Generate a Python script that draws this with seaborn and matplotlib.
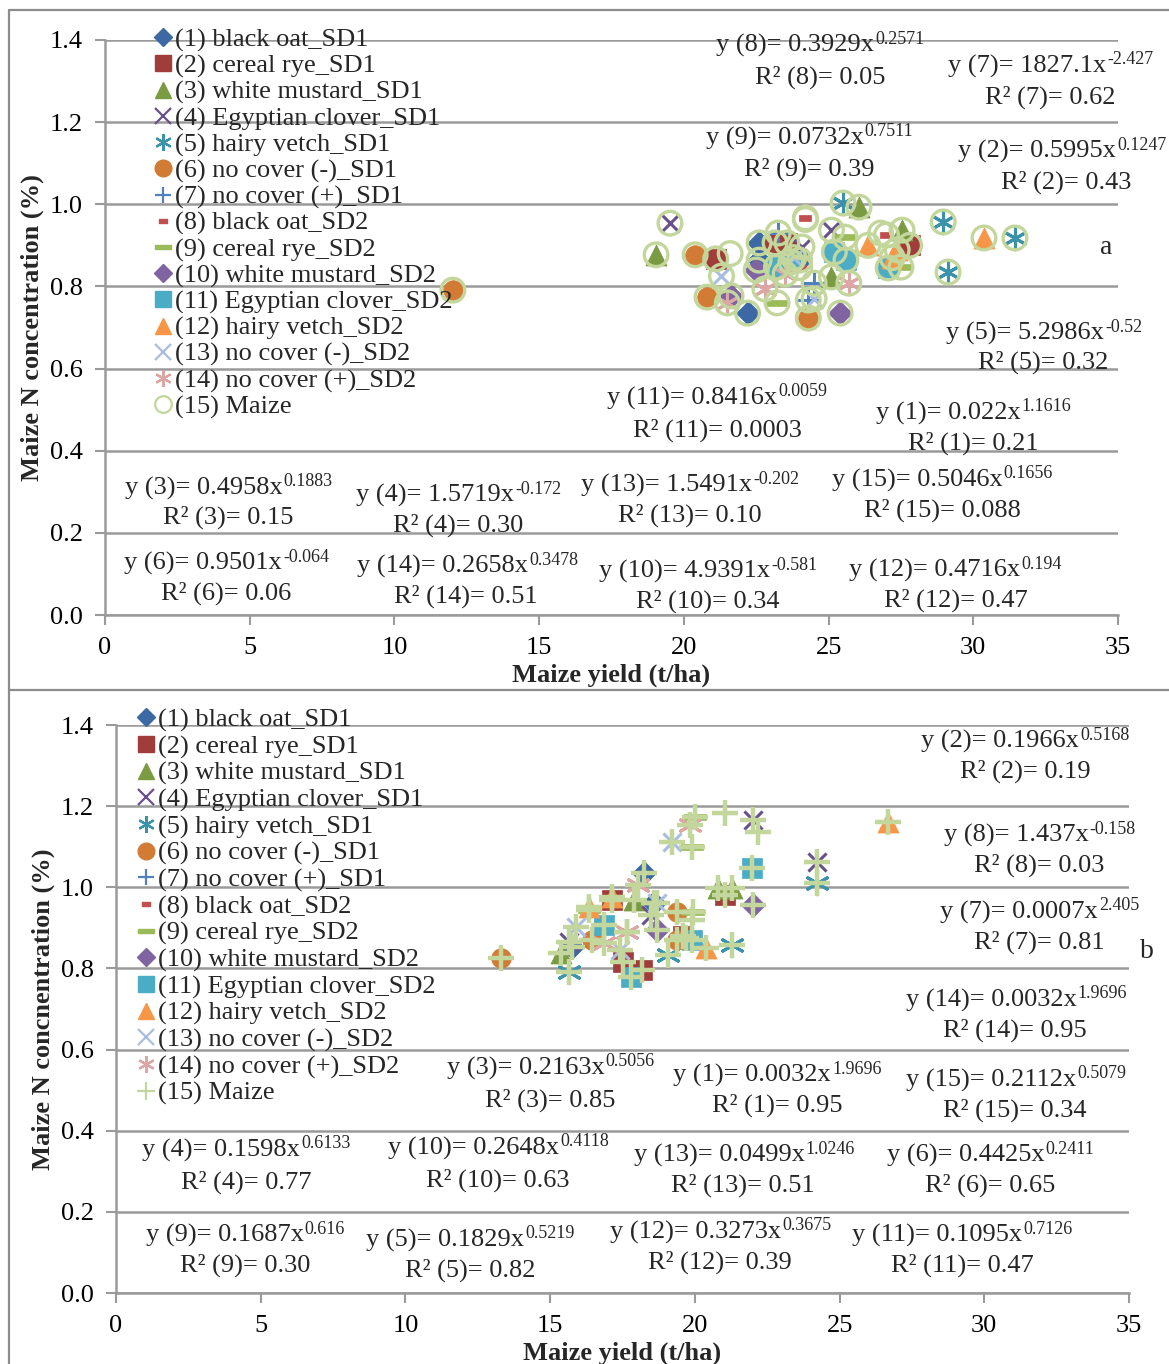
import matplotlib
matplotlib.use("Agg")
import matplotlib.pyplot as plt
import seaborn as sns
import numpy as np
import pandas as pd
from matplotlib.lines import Line2D
from matplotlib.markers import MarkerStyle
from matplotlib.path import Path

sns.set_theme(style="white")
plt.rcParams["font.family"] = ["Liberation Serif", "DejaVu Serif"]

# ---------------- data ----------------
series_labels = ["(1) black oat_SD1", "(2) cereal rye_SD1", "(3) white mustard_SD1",
                 "(4) Egyptian clover_SD1", "(5) hairy vetch_SD1", "(6) no cover (-)_SD1",
                 "(7) no cover (+)_SD1", "(8) black oat_SD2", "(9) cereal rye_SD2",
                 "(10) white mustard_SD2", "(11) Egyptian clover_SD2", "(12) hairy vetch_SD2",
                 "(13) no cover (-)_SD2", "(14) no cover (+)_SD2", "(15) Maize"]

# panel a: maize yield (t/ha) and N concentration (%) per series (1)-(14)
a_yield = [
    [22.2, 22.6, 22.6, 24.0],
    [21.1, 23.15, 23.56, 27.8],
    [19.04, 26.05, 25.1, 27.54],
    [19.52, 24.08, 25.1],
    [25.5, 28.96, 29.13, 31.44],
    [12.02, 20.39, 20.8, 24.3],
    [23.26, 24.5, 24.3],
    [24.2, 27.0, 24.0],
    [23.22, 25.57, 27.5],
    [21.63, 22.5, 25.4],
    [23.2, 25.2, 25.6, 27.06, 23.7],
    [26.36, 27.37, 30.37, 27.2],
    [21.3, 24.5, 23.8],
    [21.5, 22.8, 25.7, 23.5],
]
a_nconc = [
    [0.735, 0.906, 0.864, 0.864],
    [0.867, 0.906, 0.906, 0.900],
    [0.877, 0.993, 0.823, 0.937],
    [0.954, 0.896, 0.937],
    [1.003, 0.957, 0.835, 0.918],
    [0.791, 0.877, 0.774, 0.723],
    [0.930, 0.808, 0.767],
    [0.967, 0.925, 0.846],
    [0.760, 0.920, 0.847],
    [0.777, 0.840, 0.735],
    [0.847, 0.884, 0.864, 0.845, 0.860],
    [0.900, 0.889, 0.918, 0.870],
    [0.825, 0.770, 0.870],
    [0.760, 0.794, 0.808, 0.830],
]
a_maize_extra_yield = [24.2, 26.8, 21.6]
a_maize_extra_nconc = [0.963, 0.930, 0.880]

# panel b
b_yield = [
    [18.26, 18.6, 15.77],
    [21.03, 17.12, 17.5, 18.16, 19.6],
    [20.79, 21.3, 17.9, 15.38],
    [22.0, 24.22, 18.5, 15.66],
    [24.22, 21.27, 19.06, 15.66],
    [13.3, 19.37, 19.37, 16.46],
    [21.03, 19.9],
    [17.64, 19.7],
    [19.99, 19.9, 16.35, 19.92],
    [22.0, 18.7],
    [21.97, 19.9, 16.87, 17.8],
    [26.68, 17.15, 16.35, 20.37],
    [19.2, 18.7, 15.9, 17.4],
    [19.82, 18.02, 16.87, 17.64],
]
b_nconc = [
    [1.035, 0.961, 0.853],
    [0.981, 0.969, 0.816, 0.796, 0.880],
    [0.998, 0.998, 0.969, 0.838],
    [1.166, 1.062, 0.932, 0.865],
    [1.010, 0.857, 0.833, 0.791],
    [0.826, 0.939, 0.870, 0.870],
    [1.183, 0.920],
    [0.890, 0.875],
    [1.173, 1.100, 0.944, 0.939],
    [0.956, 0.895],
    [1.048, 0.870, 0.907, 0.779],
    [1.161, 0.976, 0.951, 0.850],
    [1.112, 0.961, 0.902, 0.845],
    [1.154, 1.006, 0.863, 0.890],
]
b_maize_extra_yield = [22.18]
b_maize_extra_nconc = [1.136]

a_equations = [
    ("y (8)= 0.3929x", "0.2571", 820, 45), ("R² (8)= 0.05", None, 820, 77),
    ("y (7)= 1827.1x", "-2.427", 1050, 66), ("R² (7)= 0.62", None, 1050, 97),
    ("y (9)= 0.0732x", "0.7511", 809, 138), ("R² (9)= 0.39", None, 809, 169),
    ("y (2)= 0.5995x", "0.1247", 1062, 151), ("R² (2)= 0.43", None, 1066, 182),
    ("y (5)= 5.2986x", "-0.52", 1044, 333), ("R² (5)= 0.32", None, 1043, 362),
    ("y (11)= 0.8416x", "0.0059", 717, 398), ("R² (11)= 0.0003", None, 717, 430),
    ("y (1)= 0.022x", "1.1616", 973, 413), ("R² (1)= 0.21", None, 973, 443),
    ("y (3)= 0.4958x", "0.1883", 228, 488), ("R² (3)= 0.15", None, 228, 517),
    ("y (4)= 1.5719x", "-0.172", 458, 495), ("R² (4)= 0.30", None, 458, 525),
    ("y (13)= 1.5491x", "-0.202", 690, 485), ("R² (13)= 0.10", None, 690, 515),
    ("y (15)= 0.5046x", "0.1656", 942, 480), ("R² (15)= 0.088", None, 942, 510),
    ("y (6)= 0.9501x", "-0.064", 226, 563), ("R² (6)= 0.06", None, 226, 593),
    ("y (14)= 0.2658x", "0.3478", 467, 566), ("R² (14)= 0.51", None, 466, 596),
    ("y (10)= 4.9391x", "-0.581", 708, 571), ("R² (10)= 0.34", None, 708, 601),
    ("y (12)= 0.4716x", "0.194", 955, 570), ("R² (12)= 0.47", None, 956, 600),
]
b_equations = [
    ("y (2)= 0.1966x", "0.5168", 1025, 741), ("R² (2)= 0.19", None, 1025, 771),
    ("y (8)= 1.437x", "-0.158", 1039, 835), ("R² (8)= 0.03", None, 1039, 865),
    ("y (7)= 0.0007x", "2.405", 1039, 912), ("R² (7)= 0.81", None, 1039, 942),
    ("y (14)= 0.0032x", "1.9696", 1016, 1000), ("R² (14)= 0.95", None, 1015, 1030),
    ("y (3)= 0.2163x", "0.5056", 550, 1068), ("R² (3)= 0.85", None, 550, 1100),
    ("y (1)= 0.0032x", "1.9696", 777, 1075), ("R² (1)= 0.95", None, 777, 1105),
    ("y (15)= 0.2112x", "0.5079", 1016, 1080), ("R² (15)= 0.34", None, 1015, 1110),
    ("y (4)= 0.1598x", "0.6133", 246, 1150), ("R² (4)= 0.77", None, 246, 1182),
    ("y (10)= 0.2648x", "0.4118", 498, 1148), ("R² (10)= 0.63", None, 498, 1180),
    ("y (13)= 0.0499x", "1.0246", 744, 1155), ("R² (13)= 0.51", None, 743, 1185),
    ("y (6)= 0.4425x", "0.2411", 990, 1155), ("R² (6)= 0.65", None, 990, 1185),
    ("y (9)= 0.1687x", "0.616", 245, 1235), ("R² (9)= 0.30", None, 245, 1265),
    ("y (5)= 0.1829x", "0.5219", 470, 1240), ("R² (5)= 0.82", None, 470, 1270),
    ("y (12)= 0.3273x", "0.3675", 720, 1232), ("R² (12)= 0.39", None, 720, 1262),
    ("y (11)= 0.1095x", "0.7126", 962, 1235), ("R² (11)= 0.47", None, 962, 1265),
]

# ---------------- styles ----------------
W, H = 1169, 1364
def fx(px): return px / W
def fy(py): return 1 - py / H

dash_short = MarkerStyle(Path([(-1, -0.5), (1, -0.5), (1, 0.5), (-1, 0.5), (-1, -0.5)]))
dash_long = MarkerStyle(Path([(-1, -0.28), (1, -0.28), (1, 0.28), (-1, 0.28), (-1, -0.28)]))

colors = ["#3C69A3", "#A03D3A", "#7B9B43", "#67508C", "#3A93AA", "#D27B34",
          "#4F81BD", "#C0504D", "#9BBB59", "#8064A2", "#4BACC6", "#F79646",
          "#A9BDE0", "#DCA6A5", "#C3D69B"]
markers = ["D", "s", "^", "x", (6, 2, 0), "o", "+", dash_short, dash_long,
           "D", "s", "^", "x", (6, 2, 0)]
filled = [True, True, True, False, False, True, False, True, True,
          True, True, True, False, False]
sizes = [150, 190, 230, 170, 260, 200, 260, 70, 260, 150, 190, 230, 170, 260]
leg_sizes = [9, 11, 12, 11, 12, 12, 12, 6, 11, 9, 11, 12, 11, 12]

GRID = "#9A9A9A"
FS = 19
FS_SUP = 13

fig = plt.figure(figsize=(W / 100, H / 100), dpi=100)
ax_a = fig.add_axes([fx(105), fy(615), (1118 - 105) / W, (615 - 40) / H])
ax_b = fig.add_axes([fx(116), fy(1293), (1129 - 116) / W, (1293 - 725) / H])


def style_axes(ax, ylabel, ylabelpad):
    ax.set_xlim(0, 35)
    ax.set_ylim(0, 1.4)
    ax.set_xticks(np.arange(0, 36, 5))
    ax.set_yticks(np.round(np.arange(0, 1.41, 0.2), 1))
    ax.set_yticklabels([f"{v:.1f}" for v in np.arange(0, 1.41, 0.2)])
    ax.grid(axis="y", color=GRID, lw=1.8, zorder=0)
    ax.grid(axis="x", visible=False)
    ax.set_axisbelow(True)
    for s in ["top", "right"]:
        ax.spines[s].set_visible(False)
    for s in ["left", "bottom"]:
        ax.spines[s].set_color(GRID)
        ax.spines[s].set_linewidth(1.8)
    ax.tick_params(axis="both", direction="out", length=7, width=1.5, color=GRID,
                   labelsize=FS, labelcolor="black", left=True, bottom=True)
    ax.tick_params(axis="y", pad=9)
    ax.tick_params(axis="x", pad=9)
    ax.set_xlabel("Maize yield (t/ha)", fontsize=FS, fontweight="bold", labelpad=3)
    ax.set_ylabel(ylabel, fontsize=FS, fontweight="bold", labelpad=ylabelpad)


def draw_panel(ax, xs, ys, mx, my, maize_marker):
    for i in range(14):
        c = colors[i]
        kw = dict(x=xs[i], y=ys[i], ax=ax, marker=markers[i], s=sizes[i],
                  legend=False, zorder=3 + i * 0.01)
        if filled[i]:
            kw.update(color=c, edgecolor=c, linewidth=0.5)
        else:
            kw.update(color=c, edgecolor=c, linewidth=2.2)
        sns.scatterplot(**kw)
    all_x = [v for s in xs for v in s] + list(mx)
    all_y = [v for s in ys for v in s] + list(my)
    maize = pd.DataFrame({"yield": all_x, "nconc": all_y})
    if maize_marker == "o":
        sns.scatterplot(data=maize, x="yield", y="nconc", ax=ax, marker="o", s=290,
                        facecolor="none", edgecolor=colors[14], linewidth=2.4,
                        legend=False, zorder=5)
    else:
        sns.scatterplot(data=maize, x="yield", y="nconc", ax=ax, marker="+", s=330,
                        color=colors[14], edgecolor=colors[14], linewidth=3.2,
                        legend=False, zorder=5)


def make_legend(ax, maize_marker, left_px, top_px, spacing):
    handles = []
    for i in range(14):
        c = colors[i]
        if filled[i]:
            h = Line2D([], [], ls="none", marker=markers[i], color=c, markerfacecolor=c,
                       markeredgecolor=c, markersize=leg_sizes[i])
        else:
            h = Line2D([], [], ls="none", marker=markers[i], color=c,
                       markeredgewidth=1.6, markersize=leg_sizes[i])
        handles.append(h)
    if maize_marker == "o":
        handles.append(Line2D([], [], ls="none", marker="o", markerfacecolor="none",
                              markeredgecolor=colors[14], markeredgewidth=1.6, markersize=12))
    else:
        handles.append(Line2D([], [], ls="none", marker="+", color=colors[14],
                              markeredgewidth=1.6, markersize=13))
    leg = ax.legend(handles, series_labels, loc="upper left",
                    bbox_to_anchor=(fx(left_px), fy(top_px)), bbox_transform=fig.transFigure,
                    frameon=False, fontsize=FS, handlelength=0.6, handletextpad=0.15,
                    labelspacing=spacing, borderpad=0, borderaxespad=0)
    leg.set_zorder(10)


style_axes(ax_a, "Maize N concentration (%)", 4)
style_axes(ax_b, "Maize N concnentration (%)", 4)
draw_panel(ax_a, a_yield, a_nconc, a_maize_extra_yield, a_maize_extra_nconc, "o")
draw_panel(ax_b, b_yield, b_nconc, b_maize_extra_yield, b_maize_extra_nconc, "+")
make_legend(ax_a, "o", 155, 28, 0.088)
make_legend(ax_b, "+", 138, 708, 0.105)

# equation labels: base text plus a smaller raised exponent, centred as a whole
renderer = fig.canvas.get_renderer()
for base, sup, px, py in a_equations + b_equations:
    if sup is None:
        fig.text(fx(px), fy(py), base, ha="center", va="center", fontsize=FS)
        continue
    t1 = fig.text(0, 0, base, fontsize=FS, ha="left", va="center")
    t2 = fig.text(0, 0, sup, fontsize=FS_SUP, ha="left", va="center")
    w1 = t1.get_window_extent(renderer).width
    w2 = t2.get_window_extent(renderer).width
    left = px - (w1 + w2) / 2
    t1.set_position((fx(left), fy(py)))
    t2.set_position((fx(left + w1 + 1), fy(py - 6)))
fig.text(fx(1106), fy(247), "a", ha="center", va="center", fontsize=FS + 1)
fig.text(fx(1147), fy(952), "b", ha="center", va="center", fontsize=FS + 1)

# panel frame lines
for (x0, y0, x1, y1) in [(9, 10, 1169, 10), (9, 10, 9, 1364), (9, 690, 1169, 690)]:
    fig.add_artist(Line2D([fx(x0), fx(x1)], [fy(y0), fy(y1)], transform=fig.transFigure,
                          color="#8C8C8C", lw=1.6))

fig.savefig("out.png", dpi=100, facecolor="white")
